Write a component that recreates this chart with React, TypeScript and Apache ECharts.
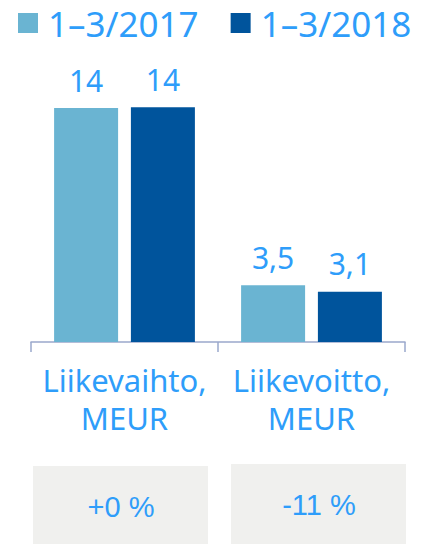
import React, { useEffect, useRef } from "react";
import * as echarts from "echarts";

const categories = ["Liikevaihto,\nMEUR", "Liikevoitto,\nMEUR"];
const seriesNames = ["1\u20133/2017", "1\u20133/2018"];
const values2017 = [14.4, 3.5];
const values2018 = [14.45, 3.1];
const changes = ["+0 %", "-11 %"];

const TEXT_BLUE = "#2E9DFA";
const LIGHT = "#6AB4D2";
const DARK = "#00549C";

const fmt = (v: number) =>
  v >= 10 ? String(Math.round(v)) : v.toFixed(1).replace(".", ",");

export default function App() {
  const ref = useRef<HTMLDivElement>(null);
  useEffect(() => {
    if (!ref.current) return;
    const chart = echarts.init(ref.current, null, { renderer: "svg" });
    const labelStyle = {
      show: true,
      position: "top" as const,
      distance: 13,
      color: TEXT_BLUE,
      fontFamily: "Noto Sans",
      fontSize: 30,
      formatter: (p: any) => fmt(p.value),
    };
    chart.setOption({
      animation: false,
      backgroundColor: "#ffffff",
      legend: {
        data: seriesNames,
        left: 18,
        top: 4,
        padding: 0,
        icon: "rect",
        itemWidth: 20,
        itemHeight: 20,
        itemGap: 32,
        textStyle: {
          color: TEXT_BLUE,
          fontFamily: "Noto Sans",
          fontSize: 35,
          lineHeight: 38,
          padding: [0, 0, 0, 5],
        },
      },
      grid: { left: 31, right: 27, top: 82, bottom: 202, containLabel: false },
      xAxis: {
        type: "category",
        data: categories,
        axisLine: { show: true, lineStyle: { color: "#9AA8CC", width: 1.5 } },
        axisTick: { show: true, length: 10, lineStyle: { color: "#9AA8CC", width: 1.5 } },
        axisLabel: {
          color: TEXT_BLUE,
          fontFamily: "Noto Sans",
          fontSize: 31,
          lineHeight: 38,
          margin: 19,
          interval: 0,
        },
      },
      yAxis: {
        type: "value",
        min: 0,
        max: 16,
        show: false,
        splitLine: { show: false },
      },
      series: [
        {
          name: seriesNames[0],
          type: "bar",
          data: values2017,
          barWidth: 64,
          barGap: "20%",
          itemStyle: { color: LIGHT },
          label: labelStyle,
        },
        {
          name: seriesNames[1],
          type: "bar",
          data: values2018,
          barWidth: 64,
          barGap: "20%",
          itemStyle: { color: DARK },
          label: labelStyle,
        },
      ],
      graphic: [
        { type: "rect", left: 33, top: 466, shape: { width: 175, height: 78 }, style: { fill: "#F0F0EE" } },
        { type: "rect", left: 231, top: 464, shape: { width: 175, height: 80 }, style: { fill: "#F0F0EE" } },
        {
          type: "text",
          x: 121,
          y: 507,
          style: {
            text: changes[0],
            fill: TEXT_BLUE,
            font: "29px 'Liberation Sans'",
            align: "center",
            verticalAlign: "middle",
          },
        },
        {
          type: "text",
          x: 319,
          y: 505,
          style: {
            text: changes[1],
            fill: TEXT_BLUE,
            font: "29px 'Liberation Sans'",
            align: "center",
            verticalAlign: "middle",
          },
        },
      ],
    });
    return () => chart.dispose();
  }, []);
  return (
    <div
      ref={ref}
      style={{ position: "absolute", left: 0, top: 0, width: 432, height: 544 }}
    />
  );
}
